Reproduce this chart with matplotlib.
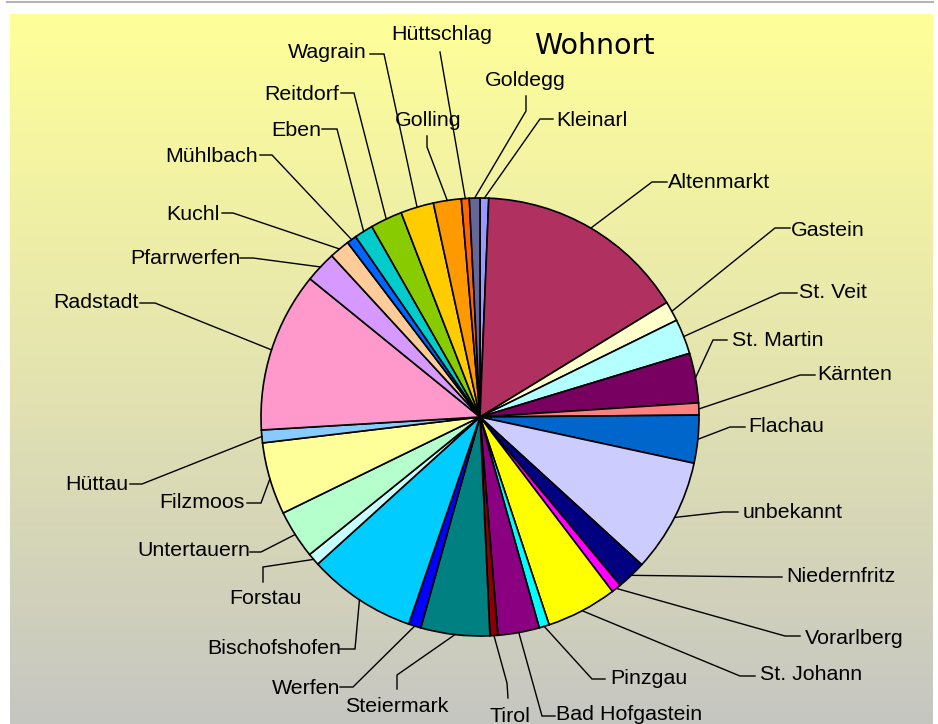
import numpy as np
import matplotlib
matplotlib.use("Agg")
import matplotlib.pyplot as plt
from matplotlib.colors import LinearSegmentedColormap

# ---------------- data (clockwise from 12 o'clock) ----------------
orte = ["Kleinarl", "Altenmarkt", "Gastein", "St. Veit", "St. Martin", "Kärnten",
        "Flachau", "unbekannt", "Niedernfritz", "Vorarlberg", "St. Johann", "Pinzgau",
        "Bad Hofgastein", "Tirol", "Steiermark", "Werfen", "Bischofshofen", "Forstau",
        "Untertauern", "Filzmoos", "Hüttau", "Radstadt", "Pfarrwerfen", "Kuchl",
        "Mühlbach", "Eben", "Reitdorf", "Wagrain", "Golling", "Hüttschlag", "Goldegg"]
anteile = [2.3, 56.2, 5.3, 9.3, 13.2, 3.2,
           12.7, 30.2, 7.8, 2.6, 18.8, 2.7,
           11.0, 2.1, 18.3, 3.3, 28.8, 3.3,
           12.9, 19.2, 3.4, 42.5, 8.3, 5.4,
           2.6, 5.0, 8.5, 8.8, 7.4, 2.1, 2.8]
farben = ["#9999FF", "#B03060", "#FFFFCC", "#B4FFFF", "#780060", "#FF8080",
          "#0066CC", "#CCCCFF", "#000080", "#FF00FF", "#FFFF00", "#00FFFF",
          "#8B0080", "#8B0000", "#008080", "#0000FF", "#00CCFF", "#C8FFFF",
          "#B4FFCC", "#FFFF99", "#88CCFF", "#FF99CC", "#D699FF", "#FFCC99",
          "#0066FF", "#00CCCC", "#88CC00", "#FFCC00", "#FF9900", "#FF6600", "#666699"]
titel = "Wohnort"

# ---------------- layout (pixel positions, y downwards) ----------------
W, H = 938, 724
CX, CY, R = 480, 417, 219
# text centre, elbow point, stub end
layout = {
    "Kleinarl":       ((592, 119), (540, 119), (553, 119)),
    "Altenmarkt":     ((719, 181), (652, 182), (667, 182)),
    "Gastein":        ((828, 229), (775, 228), (790, 228)),
    "St. Veit":       ((833, 292), (780, 293), (797, 293)),
    "St. Martin":     ((778, 339), (713, 340), (727, 340)),
    "Kärnten":        ((855, 374), (800, 375), (815, 375)),
    "Flachau":        ((786, 425), (730, 427), (745, 427)),
    "unbekannt":      ((793, 511), (723, 512), (738, 512)),
    "Niedernfritz":   ((841, 576), (767, 577), (782, 577)),
    "Vorarlberg":     ((854, 637), (785, 636), (800, 636)),
    "St. Johann":     ((811, 673), (740, 676), (755, 676)),
    "Pinzgau":        ((649, 677), (592, 679), (605, 679)),
    "Bad Hofgastein": ((629, 714), (542, 716), (555, 716)),
    "Tirol":          ((510, 715), (507, 683), (508, 698)),
    "Steiermark":     ((397, 706), (397, 675), (397, 689)),
    "Werfen":         ((306, 687), (353, 687), (340, 687)),
    "Bischofshofen":  ((274, 647), (355, 649), (340, 649)),
    "Forstau":        ((265, 598), (263, 567), (263, 582)),
    "Untertauern":    ((194, 550), (261, 552), (250, 552)),
    "Filzmoos":       ((202, 502), (261, 503), (247, 503)),
    "Hüttau":         ((97, 484), (142, 484), (130, 484)),
    "Radstadt":       ((96, 302), (155, 303), (140, 303)),
    "Pfarrwerfen":    ((185, 258), (253, 258), (240, 258)),
    "Kuchl":          ((193, 213), (233, 213), (222, 213)),
    "Mühlbach":       ((212, 155), (272, 155), (260, 155)),
    "Eben":           ((296, 130), (337, 129), (322, 129)),
    "Reitdorf":       ((302, 93), (354, 93), (341, 93)),
    "Wagrain":        ((327, 52), (384, 54), (370, 54)),
    "Golling":        ((428, 119), (427, 147), (427, 136)),
    "Hüttschlag":     ((442, 33), (440, 52), (440, 52)),
    "Goldegg":        ((525, 79), (526, 111), (526, 96)),
}


def P(x, y):
    return x, H - y


fig = plt.figure(figsize=(W / 100, H / 100), dpi=100)
fig.patch.set_facecolor("white")
ax = fig.add_axes([0, 0, 1, 1])

# background gradient (plot area)
cmap = LinearSegmentedColormap.from_list("bg", ["#FFFF99", "#E4E4B0", "#C6C6C2"])
grad = np.linspace(0, 1, 256).reshape(-1, 1)
x0, x1 = 10, 933
y0, y1 = 14, 724
ax.imshow(grad, aspect="auto", cmap=cmap,
          extent=(x0, x1, H - y1, H - y0), zorder=0, interpolation="bicubic")
ax.plot([7, 933], [H - 1.5, H - 1.5], color="#B4B4B4", lw=1.5, zorder=1)

# pie
wedges, _ = ax.pie(anteile, colors=farben, startangle=90, counterclock=False,
                   center=P(CX, CY), radius=R,
                   wedgeprops=dict(edgecolor="black", linewidth=1.2))
for w in wedges:
    w.set_zorder(3)

total = sum(anteile)
cum = 0.0
label_font = ["Liberation Sans", "DejaVu Sans"]
for name, val in zip(orte, anteile):
    mid = np.deg2rad((cum + val / 2) / total * 360.0)
    cum += val
    ax_x = CX + R * np.sin(mid)
    ax_y = CY - R * np.cos(mid)
    (tx, ty), (ex, ey), (sx, sy) = layout[name]
    xs = [ax_x, ex, sx]
    ys = [ax_y, ey, sy]
    ax.plot(xs, [H - v for v in ys], color="black", lw=1.0, zorder=4,
            solid_joinstyle="miter")
    ax.text(*P(tx, ty + 1), name, ha="center", va="center", fontsize=15.4,
            family=label_font, color="black", zorder=5)

ax.text(*P(594, 46), titel, ha="center", va="center", fontsize=20.5,
        family=["DejaVu Sans"], color="black", zorder=5)

ax.set_xlim(0, W)
ax.set_ylim(0, H)
ax.set_aspect("equal")
ax.axis("off")

fig.savefig("out.png", dpi=100, facecolor="white")
